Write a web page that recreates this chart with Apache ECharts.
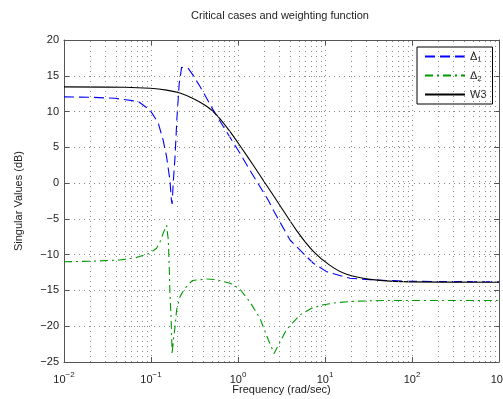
<!DOCTYPE html>
<html><head><meta charset="utf-8">
<script src="https://cdn.jsdelivr.net/npm/echarts@6/dist/echarts.min.js"></script>
<style>html,body{margin:0;padding:0;background:#fff}#c{width:503px;height:399px}</style>
</head><body><div id="c"></div>
<script>
// ---- data ----
const titleText = 'Critical cases and weighting function';
const xName = 'Frequency (rad/sec)';
const yName = 'Singular Values (dB)';
const seriesNames = ['Δ1', 'Δ2', 'W3'];
const xDecades = [0.01, 0.1, 1, 10, 100, 1000];
const yMin = -25, yMax = 20, yStep = 5;

const d1Freq = [0.01, 0.02, 0.0386, 0.0715, 0.0976, 0.121, 0.138, 0.151, 0.165, 0.172, 0.175, 0.180, 0.189, 0.198, 0.211, 0.225, 0.236, 0.269, 0.30, 0.366, 0.52, 0.678, 1.05, 1.37, 2.23, 2.55, 3.96, 5.6, 7.35, 10.5, 19.4, 32.9, 79, 200, 1000];
const d1Db   = [12.05, 12.0, 11.85, 11.4, 10.2, 8.4, 6.0, 3.7, 0.4, -2.5, -2.9, 0.0, 3.7, 8.8, 13.9, 16.2, 16.4, 16.0, 15.2, 13.5, 10.2, 7.9, 4.2, 1.8, -2.4, -3.8, -7.95, -9.8, -11.2, -12.4, -13.3, -13.5, -13.7, -13.75, -13.8];

const d2Freq = [0.01, 0.0217, 0.044, 0.068, 0.097, 0.116, 0.127, 0.138, 0.151, 0.158, 0.162, 0.165, 0.170, 0.175, 0.181, 0.189, 0.197, 0.215, 0.245, 0.30, 0.44, 0.57, 0.81, 1.05, 1.37, 1.79, 2.23, 2.6, 2.78, 3.6, 5.16, 7.0, 9.6, 13.6, 23, 51, 1000];
const d2Db   = [-11.0, -10.9, -10.75, -10.4, -9.8, -9.1, -8.2, -7.0, -5.9, -7.9, -11.7, -15.4, -18.7, -23.9, -21.9, -20.1, -17.7, -15.9, -14.7, -13.6, -13.4, -13.5, -14.0, -14.8, -16.6, -18.9, -21.9, -23.8, -23.1, -20.5, -18.4, -17.5, -17.0, -16.7, -16.5, -16.4, -16.4];

const w3Freq = [0.01, 0.05, 0.098, 0.151, 0.215, 0.30, 0.44, 0.57, 0.81, 1.1, 1.5, 2.0, 2.88, 4.7, 7.3, 11.4, 17.7, 32.9, 79, 1000];
const w3Db   = [13.45, 13.4, 13.25, 13.0, 12.6, 11.85, 10.7, 9.5, 7.2, 4.9, 2.5, 0.2, -2.7, -6.6, -9.5, -11.5, -12.75, -13.45, -13.77, -13.85];

// ---- chart ----
const zip = (a, b) => a.map((v, i) => [v, b[i]]);
const minorGrid = [];
xDecades.slice(0, -1).forEach(d => { for (let k = 2; k <= 9; k++) minorGrid.push(Number((d * k).toPrecision(6))); });

const FONT = 'Liberation Sans, Arial, Helvetica, sans-serif';
const TXT = '#222';
const dotted = { color: '#8a8a8a', width: 1, type: [1, 4] };
const minus = s => String(s).replace('-', '\u2212');
const axisLineStyle = { show: true, onZero: false, lineStyle: { color: '#555', width: 1 } };
const tickStyle = { show: true, inside: true, length: 5, lineStyle: { color: '#555' } };

const chart = echarts.init(document.getElementById('c'), null, { renderer: 'canvas' });
chart.setOption({
  animation: false,
  backgroundColor: '#fff',
  textStyle: { fontFamily: FONT },
  title: {
    text: titleText, left: 275, top: 5, textAlign: 'center',
    textStyle: { fontSize: 11, fontWeight: 'normal', color: TXT, fontFamily: FONT }
  },
  grid: { left: 64, right: 4, top: 40, bottom: 37, containLabel: false, outerBoundsMode: 'none' },
  legend: {
    data: seriesNames, orient: 'vertical', left: 417, top: 47,
    padding: [4, 6, 4, 7], itemGap: 6, itemWidth: 40, itemHeight: 12,
    backgroundColor: '#fff', borderColor: '#000', borderWidth: 1, borderRadius: 0,
    itemStyle: { color: 'rgba(0,0,0,0)', borderWidth: 0, opacity: 0 },
    formatter: n => n === 'W3' ? '{b|W3}' : '{b|Δ}{s|' + n.slice(1) + '}',
    textStyle: {
      color: TXT, fontFamily: FONT,
      rich: { b: { fontSize: 11, color: TXT, fontFamily: FONT }, s: { fontSize: 8, color: TXT, fontFamily: FONT, padding: [7, 0, 0, 0] } }
    }
  },
  xAxis: [{
    type: 'log', logBase: 10, min: 0.01, max: 1000, position: 'bottom',
    name: xName, nameLocation: 'middle', nameGap: 22, nameMoveOverlap: false,
    nameTextStyle: { fontSize: 11, color: TXT, fontFamily: FONT },
    axisLine: axisLineStyle, axisTick: tickStyle,
    axisLabel: {
      show: true, margin: 9, showMinLabel: true, showMaxLabel: true, hideOverlap: false,
      formatter: v => '{b|10}{s|' + minus(Math.round(Math.log10(v))) + '}',
      rich: { b: { fontSize: 11, color: TXT, fontFamily: FONT }, s: { fontSize: 8, color: TXT, fontFamily: FONT, padding: [0, 0, 9, 0] } }
    },
    splitLine: { show: true, lineStyle: dotted }
  }, {
    type: 'log', logBase: 10, min: 0.01, max: 1000, position: 'top',
    axisLine: axisLineStyle, axisTick: tickStyle,
    axisLabel: { show: false }, splitLine: { show: false }
  }],
  yAxis: [{
    type: 'value', min: yMin, max: yMax, interval: yStep, position: 'left',
    name: yName, nameLocation: 'middle', nameGap: 40, nameRotate: 90, nameMoveOverlap: false,
    nameTextStyle: { fontSize: 11, color: TXT, fontFamily: FONT },
    axisLine: axisLineStyle, axisTick: tickStyle,
    axisLabel: { fontSize: 11, color: TXT, margin: 5, fontFamily: FONT, formatter: v => minus(v) },
    splitLine: { show: true, lineStyle: dotted }
  }, {
    type: 'value', min: yMin, max: yMax, interval: yStep, position: 'right',
    axisLine: axisLineStyle, axisTick: tickStyle,
    axisLabel: { show: false }, splitLine: { show: false }
  }],
  series: [
    {
      name: 'minor-grid', type: 'line', data: [], z: 1, silent: true,
      markLine: {
        silent: true, symbol: ['none', 'none'], label: { show: false }, animation: false,
        lineStyle: dotted, emphasis: { disabled: true },
        data: minorGrid.map(v => ({ xAxis: v }))
      }
    },
    {
      name: 'Δ1', type: 'line', data: zip(d1Freq, d1Db), symbol: 'none', z: 3,
      lineStyle: { color: '#0000ff', width: 1.1, type: [10, 5] }, itemStyle: { color: '#0000ff' }
    },
    {
      name: 'Δ2', type: 'line', data: zip(d2Freq, d2Db), symbol: 'none', z: 3,
      lineStyle: { color: '#009900', width: 1.1, type: [8, 4, 2, 4] }, itemStyle: { color: '#009900' }
    },
    {
      name: 'W3', type: 'line', data: zip(w3Freq, w3Db), symbol: 'none', smooth: 0.3, z: 4,
      lineStyle: { color: '#000000', width: 1.1, type: 'solid' }, itemStyle: { color: '#000000' }
    }
  ]
});
</script></body></html>
